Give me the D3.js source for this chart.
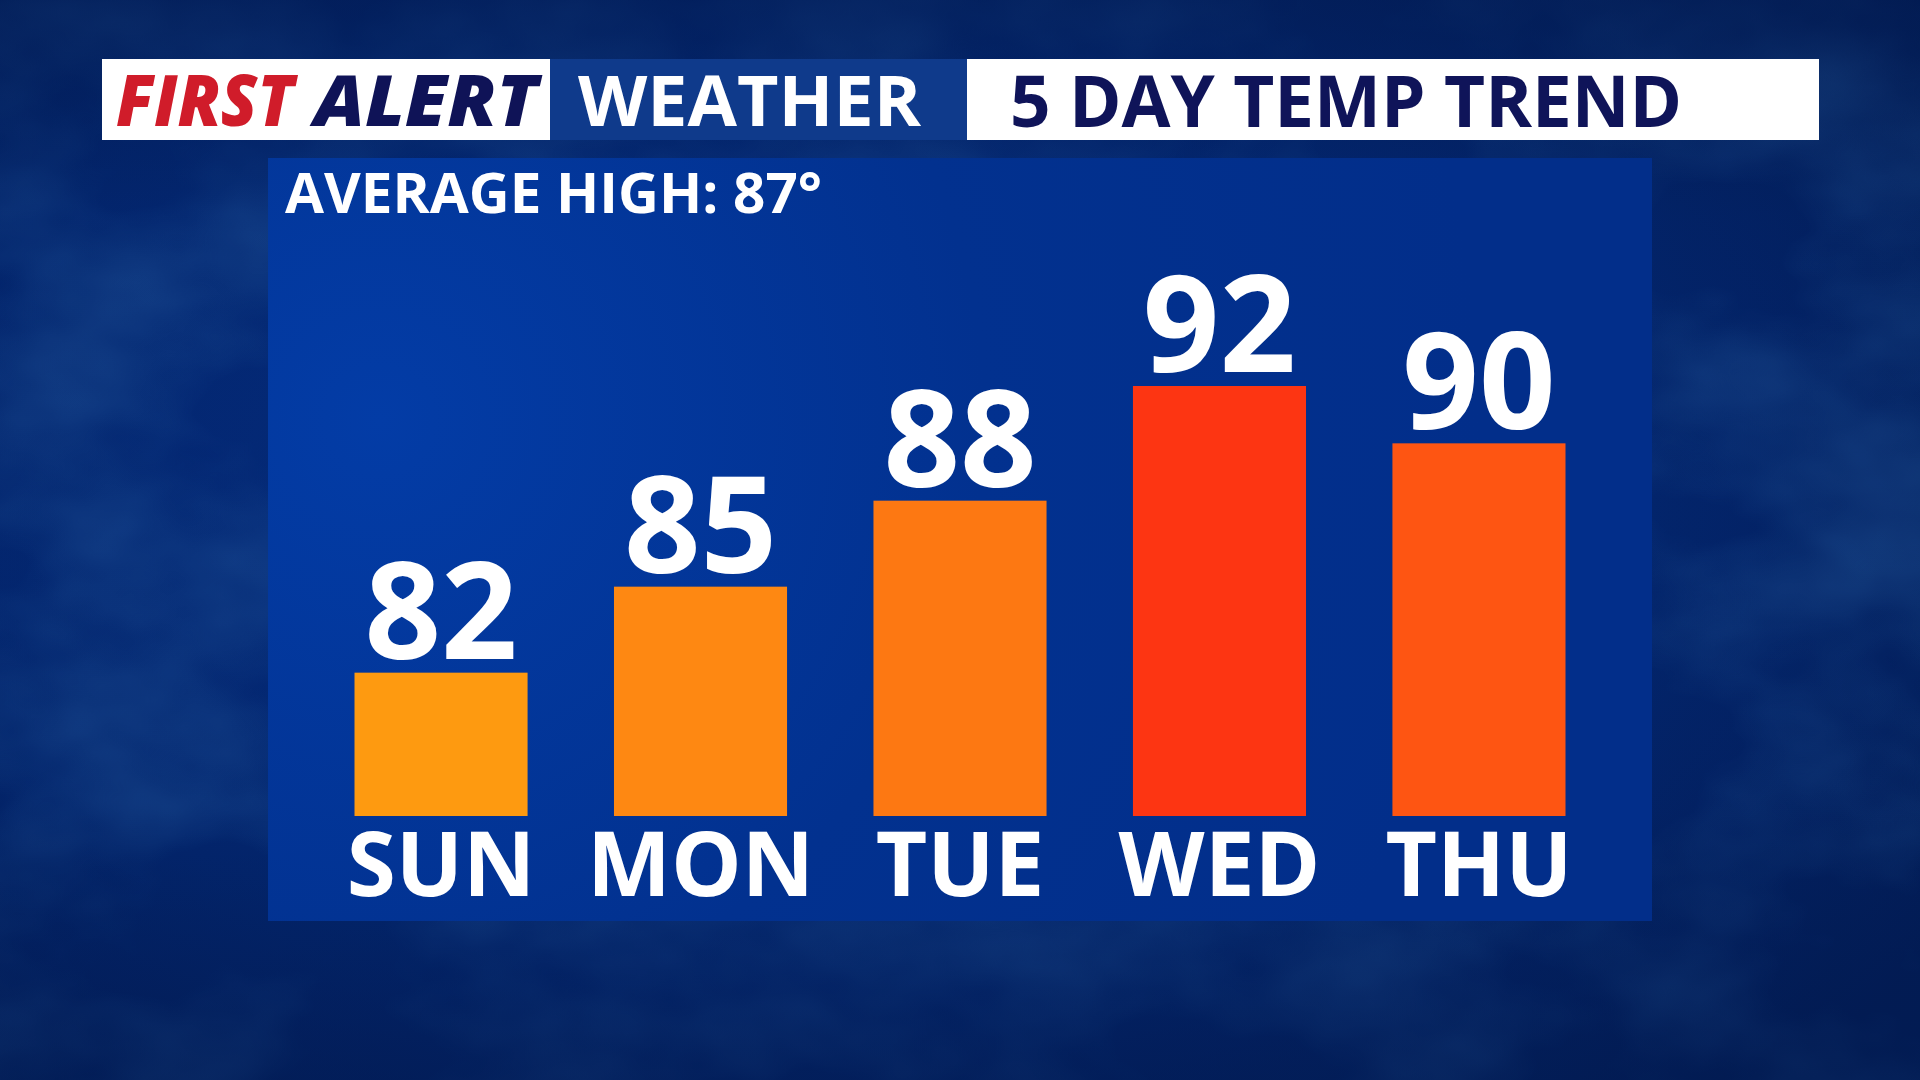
<!DOCTYPE html>
<html>
<head>
<meta charset="utf-8">
<script src="https://cdn.jsdelivr.net/npm/d3@7"></script>
<style>
  html, body { margin: 0; padding: 0; background: #03205f; overflow: hidden; }
  svg { display: block; }
  text { font-family: "Open Sans", "Noto Sans", sans-serif; }
</style>
</head>
<body>
<svg id="chart" width="1920" height="1080"></svg>
<script>
// ---- data ----
const days = ["SUN", "MON", "TUE", "WED", "THU"];
const highs = [82, 85, 88, 92, 90];
const averageHigh = 87;
const titleParts = ["FIRST", "ALERT", "WEATHER", "5 DAY TEMP TREND"];
// ---- styles ----
const barColors = ["#fe9a10", "#fe8812", "#fd7812", "#fd3512", "#fe5512"];

const W = 1920, H = 1080;
const svg = d3.select("#chart");
const defs = svg.append("defs");

// background gradient
const bg = defs.append("radialGradient").attr("id", "bgGrad")
  .attr("cx", "40%").attr("cy", "45%").attr("r", "75%");
bg.append("stop").attr("offset", "0%").attr("stop-color", "#053088");
bg.append("stop").attr("offset", "60%").attr("stop-color", "#03266f");
bg.append("stop").attr("offset", "100%").attr("stop-color", "#021c55");

// cloud texture
const cloud = defs.append("filter").attr("id", "clouds")
  .attr("x", 0).attr("y", 0).attr("width", "100%").attr("height", "100%");
cloud.append("feTurbulence").attr("type", "fractalNoise")
  .attr("baseFrequency", "0.004 0.006").attr("numOctaves", 4).attr("seed", 7).attr("result", "noise");
cloud.append("feColorMatrix").attr("type", "matrix")
  .attr("values", "0 0 0 0 0.04  0 0 0 0 0.20  0 0 0 0 0.52  1.6 0 0 0 -0.6");

svg.append("rect").attr("width", W).attr("height", H).attr("fill", "url(#bgGrad)");
svg.append("rect").attr("width", W).attr("height", H).attr("filter", "url(#clouds)").attr("opacity", 0.4);

// dark vignette at the top and bottom
const vg = defs.append("linearGradient").attr("id", "vig").attr("x1", 0).attr("y1", 0).attr("x2", 0).attr("y2", 1);
vg.append("stop").attr("offset", "0%").attr("stop-color", "#021a50").attr("stop-opacity", 0.55);
vg.append("stop").attr("offset", "20%").attr("stop-color", "#021a50").attr("stop-opacity", 0.1);
vg.append("stop").attr("offset", "75%").attr("stop-color", "#021a50").attr("stop-opacity", 0.1);
vg.append("stop").attr("offset", "100%").attr("stop-color", "#021a50").attr("stop-opacity", 0.5);
svg.append("rect").attr("width", W).attr("height", H).attr("fill", "url(#vig)");

// ---- header bar ----
const header = svg.append("g");
header.append("rect").attr("x", 102).attr("y", 59).attr("width", 448).attr("height", 81).attr("fill", "#ffffff");
header.append("rect").attr("x", 550).attr("y", 59).attr("width", 417).attr("height", 81).attr("fill", "#0f3a8b");
header.append("rect").attr("x", 967).attr("y", 59).attr("width", 852).attr("height", 81).attr("fill", "#ffffff");

header.append("text").attr("x", 116).attr("y", 126)
  .attr("font-size", 70).attr("font-weight", 800).attr("font-style", "italic")
  .attr("fill", "#d01c2a").attr("textLength", 178).attr("lengthAdjust", "spacingAndGlyphs")
  .text(titleParts[0]);
header.append("text").attr("x", 314).attr("y", 126)
  .attr("font-size", 70).attr("font-weight", 800).attr("font-style", "italic")
  .attr("fill", "#0f1357").attr("textLength", 224).attr("lengthAdjust", "spacingAndGlyphs")
  .text(titleParts[1]);
header.append("text").attr("x", 578).attr("y", 126)
  .attr("font-size", 70).attr("font-weight", 700)
  .attr("fill", "#ffffff").attr("textLength", 343).attr("lengthAdjust", "spacingAndGlyphs")
  .text(titleParts[2]);
header.append("text").attr("x", 1010).attr("y", 127)
  .attr("font-size", 71).attr("font-weight", 700)
  .attr("fill", "#0f1459").attr("textLength", 672).attr("lengthAdjust", "spacingAndGlyphs")
  .text(titleParts[3]);

// ---- panel ----
const panelX = 268, panelY = 158, panelW = 1384, panelH = 763;
const pg = defs.append("radialGradient").attr("id", "panelGrad")
  .attr("gradientUnits", "userSpaceOnUse")
  .attr("cx", 380).attr("cy", 420).attr("r", 1100);
pg.append("stop").attr("offset", "0%").attr("stop-color", "#033ca6");
pg.append("stop").attr("offset", "55%").attr("stop-color", "#02318f");
pg.append("stop").attr("offset", "100%").attr("stop-color", "#022e8a");
svg.append("rect").attr("x", panelX).attr("y", panelY).attr("width", panelW).attr("height", panelH)
  .attr("fill", "url(#panelGrad)");

svg.append("text").attr("x", 285).attr("y", 213)
  .attr("font-size", 56).attr("font-weight", 700).attr("fill", "#ffffff")
  .attr("textLength", 537).attr("lengthAdjust", "spacingAndGlyphs")
  .text(`AVERAGE HIGH: ${averageHigh}°`);

// ---- scales ----
const x = d3.scaleBand().domain(days).range([354.5, 1565.5]).paddingInner(0.333).paddingOuter(0);
const y = d3.scaleLinear().domain([77, 92]).range([816, 386]);
const color = d3.scaleOrdinal().domain(days).range(barColors);

const data = days.map((d, i) => ({ day: d, high: highs[i] }));

svg.append("g").selectAll("rect").data(data).join("rect")
  .attr("x", d => x(d.day))
  .attr("y", d => y(d.high))
  .attr("width", x.bandwidth())
  .attr("height", d => y(77) - y(d.high))
  .attr("fill", d => color(d.day));

svg.append("g").selectAll("text").data(data).join("text")
  .attr("x", d => x(d.day) + x.bandwidth() / 2)
  .attr("y", d => y(d.high) - 14)
  .attr("text-anchor", "middle")
  .attr("font-size", 134).attr("font-weight", 700).attr("fill", "#ffffff")
  .text(d => d.high);

// day axis
const xAxis = d3.axisBottom(x).tickSize(0).tickPadding(0);
const ax = svg.append("g").attr("transform", "translate(0,816)").call(xAxis);
ax.select(".domain").remove();
ax.selectAll("text")
  .attr("y", 80).attr("dy", 0)
  .attr("font-size", 89).attr("font-weight", 700).attr("fill", "#ffffff")
  .style("font-family", "'Open Sans', 'Noto Sans', sans-serif");
</script>
</body>
</html>
